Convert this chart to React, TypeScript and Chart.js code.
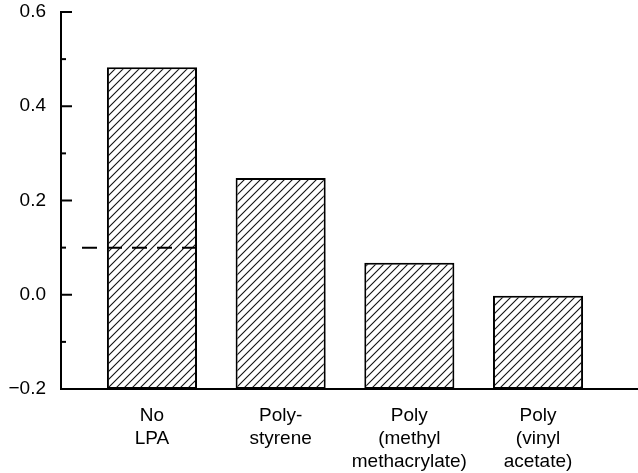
import { useEffect, useRef } from 'react';
import { Chart, registerables } from 'chart.js';

Chart.register(...registerables);

const categories: string[][] = [
  ['No', 'LPA'],
  ['Poly-', 'styrene'],
  ['Poly', '(methyl', 'methacrylate)'],
  ['Poly', '(vinyl', 'acetate)'],
];
const values: number[] = [0.483, 0.248, 0.068, -0.002];
const referenceValue = 0.1;
const yMin = -0.2;
const yMax = 0.6;
const yStep = 0.1;

function makeHatch(): CanvasPattern | string {
  const s = 8;
  const c = document.createElement('canvas');
  c.width = s;
  c.height = s;
  const g = c.getContext('2d');
  if (!g) return '#fff';
  g.fillStyle = '#fff';
  g.fillRect(0, 0, s, s);
  g.strokeStyle = '#111';
  g.lineWidth = 1.1;
  g.beginPath();
  g.moveTo(-1, s + 1);
  g.lineTo(s + 1, -1);
  g.moveTo(-1, 1);
  g.lineTo(1, -1);
  g.moveTo(s - 1, s + 1);
  g.lineTo(s + 1, s - 1);
  g.stroke();
  return g.createPattern(c, 'repeat') || '#fff';
}

const inwardTicks = {
  id: 'inwardTicks',
  afterDraw(chart: any) {
    const y = chart.scales.y;
    const ctx = chart.ctx;
    const left = chart.chartArea.left;
    ctx.save();
    ctx.strokeStyle = '#000';
    ctx.lineWidth = 2;
    y.ticks.forEach((t: any) => {
      const major = Math.round(t.value * 10) % 2 === 0;
      const py = y.getPixelForValue(t.value);
      ctx.beginPath();
      ctx.moveTo(left, py);
      ctx.lineTo(left + (major ? 11 : 5), py);
      ctx.stroke();
    });
    ctx.restore();
  },
};

const refLine = {
  id: 'refLine',
  afterDatasetsDraw(chart: any) {
    const y = chart.scales.y;
    const ctx = chart.ctx;
    const bar = chart.getDatasetMeta(0).data[0];
    const py = y.getPixelForValue(referenceValue);
    const x0 = chart.chartArea.left + 21;
    const x1 = bar.x + bar.width / 2;
    ctx.save();
    ctx.strokeStyle = '#000';
    ctx.lineWidth = 2;
    ctx.setLineDash([15, 10]);
    ctx.beginPath();
    ctx.moveTo(x0, py);
    ctx.lineTo(x1, py);
    ctx.stroke();
    ctx.restore();
  },
};

const FONT = '"Liberation Sans", Arial, sans-serif';

export default function App() {
  const ref = useRef<HTMLCanvasElement>(null);
  useEffect(() => {
    document.body.style.margin = '0';
    if (!ref.current) return;
    const hatch = makeHatch();
    const chart = new Chart(ref.current, {
      type: 'bar',
      data: {
        datasets: [
          {
            data: values.map((v, i) => ({ x: i, y: v })),
            base: yMin,
            backgroundColor: hatch as any,
            borderColor: '#000',
            borderWidth: 2,
            borderSkipped: false,
            categoryPercentage: 1,
            barPercentage: 0.7,
          } as any,
        ],
      },
      options: {
        animation: false,
        responsive: true,
        maintainAspectRatio: false,
        layout: { padding: { top: 12, right: 0, left: 0, bottom: 0 } },
        plugins: { legend: { display: false }, tooltip: { enabled: false } },
        scales: {
          x: {
            type: 'linear',
            offset: false,
            min: -0.707,
            max: 3.777,
            afterBuildTicks: (scale: any) => {
              scale.ticks = categories.map((_, i) => ({ value: i }));
            },
            afterFit: (scale: any) => {
              scale.height = 84;
              scale.paddingLeft = 0;
              scale.paddingRight = 0;
            },
            grid: { display: false, drawTicks: false, offset: false },
            border: { display: true, color: '#000', width: 2 },
            ticks: {
              autoSkip: false,
              maxRotation: 0,
              padding: 15,
              color: '#000',
              font: { family: FONT, size: 19, lineHeight: 1.22 },
              callback: (v: any) => categories[Math.round(Number(v))] || '',
            },
          },
          y: {
            type: 'linear',
            min: yMin,
            max: yMax,
            afterFit: (scale: any) => {
              scale.width = 61;
              scale.paddingTop = 0;
              scale.paddingBottom = 0;
            },
            grid: { display: false, drawTicks: false },
            border: { display: true, color: '#000', width: 2 },
            ticks: {
              stepSize: yStep,
              padding: 15,
              color: '#000',
              font: { family: FONT, size: 19 },
              callback: (v: any) => {
                const n = Math.round(Number(v) * 10);
                if (n % 2 !== 0) return '';
                return (n / 10).toFixed(1).replace('-', '\u2212');
              },
            },
          },
        },
      },
      plugins: [inwardTicks, refLine],
    } as any);
    return () => chart.destroy();
  }, []);
  return (
    <div style={{ position: 'relative', width: 638, height: 473 }}>
      <canvas ref={ref} />
    </div>
  );
}
